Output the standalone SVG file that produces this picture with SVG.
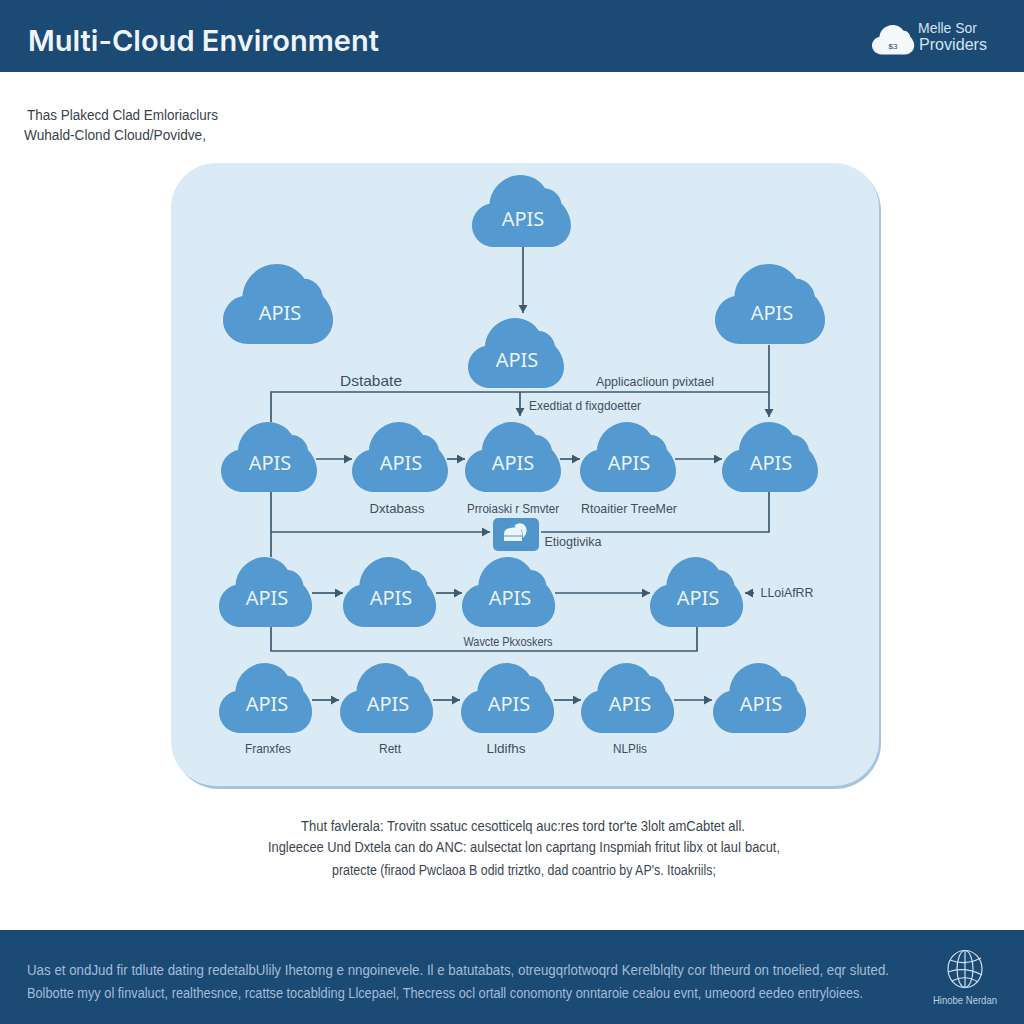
<svg xmlns="http://www.w3.org/2000/svg" width="1024" height="1024" viewBox="0 0 1024 1024">
<style>
text{font-family:"Liberation Sans","Noto Sans",sans-serif}
.api{font-family:"Noto Sans","Liberation Sans",sans-serif;font-size:20px;fill:#e9f3fa;text-anchor:middle}
.lb{font-size:13px;fill:#3f4f5c;text-anchor:middle}
.lt{font-size:14px;fill:#37424c}
.body{font-size:14px;fill:#3a4650;text-anchor:middle}
.foot{font-size:14px;fill:#a3bdd5}
.cn{fill:none;stroke:#3d5a70;stroke-width:1.7}
.cloud{fill:#5499cf}
</style>
<defs>
<marker id="ah" markerUnits="userSpaceOnUse" markerWidth="10" markerHeight="10" refX="8" refY="4.5" orient="auto"><path d="M0 0L8 4.5L0 9Z" fill="#3d5a70"/></marker>
<path id="c" d="M22 70C9 70 0 60 0 49C0 39 7 30 17 28C18 12 32 0 47 0C57 0 66 5 71 13C79 13 86 20 87 28C92 33 96 41 96 49C96 61 87 70 75 70Z"/>
</defs>
<rect width="1024" height="1024" fill="#fff"/>
<g id="header"><rect width="1024" height="72" fill="#1b4a75"/>
<text x="28" y="51" font-size="29" font-weight="600" fill="#eef4fa" style="font-family:Inter,'Noto Sans',sans-serif" textLength="351" lengthAdjust="spacingAndGlyphs">Multi-Cloud Environment</text>
<use href="#c" transform="translate(872 25) scale(.44 .42)" fill="#f4f8fb"/>
<text x="893" y="49" font-size="8" fill="#1b4a75" text-anchor="middle">$3</text>
<text x="918" y="33" font-size="15" fill="#d5e3ef" textLength="59" lengthAdjust="spacingAndGlyphs">Melle Sor</text>
<text x="919" y="50" font-size="16" fill="#d5e3ef" textLength="68" lengthAdjust="spacingAndGlyphs">Providers</text></g>
<g id="intro"><text x="27" y="120" class="lt" textLength="191" lengthAdjust="spacingAndGlyphs">Thas Plakecd Clad Emloriaclurs</text>
<text x="24" y="140" class="lt" textLength="182" lengthAdjust="spacingAndGlyphs">Wuhald-Clond Cloud/Povidve,</text></g>
<g id="panel"><rect x="173" y="165" width="708" height="624" rx="46" fill="#a8c4da"/><rect x="171" y="163" width="708" height="623" rx="45" fill="#dbebf6"/></g>
<g id="connectors">
<path class="cn" marker-end="url(#ah)" d="M523 247V313"/>
<path class="cn" d="M271 422V392H769V345"/>
<path class="cn" marker-end="url(#ah)" d="M769 392V417"/>
<path class="cn" marker-end="url(#ah)" d="M520 392V416"/>
<path class="cn" marker-end="url(#ah)" d="M316 459H352"/>
<path class="cn" marker-end="url(#ah)" d="M447 459H465"/>
<path class="cn" marker-end="url(#ah)" d="M560 459H580"/>
<path class="cn" marker-end="url(#ah)" d="M675 459H722"/>
<path class="cn" d="M271 491V557"/>
<path class="cn" marker-end="url(#ah)" d="M271 532H490"/>
<path class="cn" d="M541 532H769V491"/>
<path class="cn" marker-end="url(#ah)" d="M312 593H343"/>
<path class="cn" marker-end="url(#ah)" d="M436 593H462"/>
<path class="cn" marker-end="url(#ah)" d="M555 593H650"/>
<path class="cn" marker-end="url(#ah)" d="M754 593H745"/>
<path class="cn" d="M271 626V651H697V626"/>
<path class="cn" marker-end="url(#ah)" d="M312 700H339"/>
<path class="cn" marker-end="url(#ah)" d="M433 700H460"/>
<path class="cn" marker-end="url(#ah)" d="M554 700H581"/>
<path class="cn" marker-end="url(#ah)" d="M674 700H712"/>
</g>
<g id="n-top"><use href="#c" class="cloud" transform="translate(472 175) scale(1.03 1.03)"/><text x="523" y="226" class="api">APIS</text></g>
<g id="n-left"><use href="#c" class="cloud" transform="translate(223 264) scale(1.146 1.143)"/><text x="280" y="320" class="api">APIS</text></g>
<g id="n-right"><use href="#c" class="cloud" transform="translate(715 264) scale(1.146 1.143)"/><text x="772" y="320" class="api">APIS</text></g>
<g id="n-mid"><use href="#c" class="cloud" transform="translate(468 318)"/><text x="517" y="367" class="api">APIS</text></g>
<g id="n-r1a"><use href="#c" class="cloud" transform="translate(221 422)"/><text x="270" y="470" class="api">APIS</text></g>
<g id="n-r1b"><use href="#c" class="cloud" transform="translate(352 422)"/><text x="401" y="470" class="api">APIS</text></g>
<g id="n-r1c"><use href="#c" class="cloud" transform="translate(465 422)"/><text x="513" y="470" class="api">APIS</text></g>
<g id="n-r1d"><use href="#c" class="cloud" transform="translate(580 422)"/><text x="629" y="470" class="api">APIS</text></g>
<g id="n-r1e"><use href="#c" class="cloud" transform="translate(722 422)"/><text x="771" y="470" class="api">APIS</text></g>
<g id="n-r2a"><use href="#c" class="cloud" transform="translate(219 557) scale(.97 1)"/><text x="267" y="605" class="api">APIS</text></g>
<g id="n-r2b"><use href="#c" class="cloud" transform="translate(343 557) scale(.97 1)"/><text x="391" y="605" class="api">APIS</text></g>
<g id="n-r2c"><use href="#c" class="cloud" transform="translate(462 557) scale(.97 1)"/><text x="510" y="605" class="api">APIS</text></g>
<g id="n-r2d"><use href="#c" class="cloud" transform="translate(650 557) scale(.97 1)"/><text x="698" y="605" class="api">APIS</text></g>
<g id="n-r3a"><use href="#c" class="cloud" transform="translate(219 663) scale(.97 1)"/><text x="267" y="711" class="api">APIS</text></g>
<g id="n-r3b"><use href="#c" class="cloud" transform="translate(340 663) scale(.97 1)"/><text x="388" y="711" class="api">APIS</text></g>
<g id="n-r3c"><use href="#c" class="cloud" transform="translate(461 663) scale(.97 1)"/><text x="509" y="711" class="api">APIS</text></g>
<g id="n-r3d"><use href="#c" class="cloud" transform="translate(581 663) scale(.97 1)"/><text x="630" y="711" class="api">APIS</text></g>
<g id="n-r3e"><use href="#c" class="cloud" transform="translate(713 663) scale(.97 1)"/><text x="761" y="711" class="api">APIS</text></g>
<g id="n-box"><rect x="493" y="518" width="46" height="33" rx="5" fill="#4f95cc"/>
<path d="M504 541V534Q504 529 510 528L517 527Q522 528 522 534V541Z" fill="#eef5fa"/><path d="M514 526Q518 522 523 524Q528 527 526 534L523 538L522 530Z" fill="#eef5fa"/><path d="M504 536H522" stroke="#4f95cc" stroke-width="1"/></g>
<g id="labels">
<text x="371" y="386" class="lb" style="font-size:15px" textLength="62" lengthAdjust="spacingAndGlyphs">Dstabate</text>
<text x="655" y="386" class="lb" textLength="118" lengthAdjust="spacingAndGlyphs">Applicaclioun pvixtael</text>
<text x="585" y="410" class="lb" textLength="112" lengthAdjust="spacingAndGlyphs" style="font-size:12px">Exedtiat d fixgdoetter</text>
<text x="397" y="513" class="lb" textLength="55" lengthAdjust="spacingAndGlyphs">Dxtabass</text>
<text x="513" y="513" class="lb" textLength="92" lengthAdjust="spacingAndGlyphs">Prroiaski r Smvter</text>
<text x="629" y="513" class="lb" textLength="96" lengthAdjust="spacingAndGlyphs">Rtoaitier TreeMer</text>
<text x="573" y="546" class="lb" textLength="57" lengthAdjust="spacingAndGlyphs" style="font-size:12px">Etiogtivika</text>
<text x="787" y="597" class="lb" textLength="53" lengthAdjust="spacingAndGlyphs">LLoiAfRR</text>
<text x="508" y="646" class="lb" textLength="89" lengthAdjust="spacingAndGlyphs">Wavcte Pkxoskers</text>
<text x="268" y="753" class="lb" textLength="46" lengthAdjust="spacingAndGlyphs">Franxfes</text>
<text x="390" y="753" class="lb" textLength="22" lengthAdjust="spacingAndGlyphs">Rett</text>
<text x="506" y="753" class="lb" textLength="39" lengthAdjust="spacingAndGlyphs">Lldifhs</text>
<text x="630" y="753" class="lb" textLength="34" lengthAdjust="spacingAndGlyphs">NLPlis</text>
</g>
<g id="body">
<text x="523" y="831" class="body" textLength="444" lengthAdjust="spacingAndGlyphs">Thut favlerala: Trovitn ssatuc cesotticelq auc:res tord tor'te 3lolt amCabtet all.</text>
<text x="524" y="852" class="body" textLength="512" lengthAdjust="spacingAndGlyphs">Ingleecee Und Dxtela can do ANC: aulsectat lon caprtang Inspmiah fritut libx ot lauI bacut,</text>
<text x="524" y="875" class="body" textLength="384" lengthAdjust="spacingAndGlyphs">pratecte (firaod Pwclaoa B odid triztko, dad coantrio by AP's. Itoakriils;</text>
</g>
<g id="footer"><rect y="930" width="1024" height="94" fill="#1b4a75"/>
<text x="27" y="975" class="foot" textLength="862" lengthAdjust="spacingAndGlyphs">Uas et ondJud fir tdlute dating redetalbUlily Ihetomg e nngoinevele. Il e batutabats, otreugqrlotwoqrd Kerelblqlty cor ltheurd on tnoelied, eqr sluted.</text>
<text x="27" y="998" class="foot" textLength="836" lengthAdjust="spacingAndGlyphs">Bolbotte myy ol finvaluct, realthesnce, rcattse tocablding Llcepael, Thecress ocl ortall conomonty onntaroie cealou evnt, umeoord eedeo entryloiees.</text>
<g fill="none" stroke="#cfe0ee" stroke-width="1.2"><ellipse cx="965" cy="969" rx="17" ry="18.5"/><ellipse cx="965" cy="969" rx="8" ry="18.5"/><path d="M965 950V987M950 960Q965 966 981 958M948 972Q965 966 982 975M952 981Q965 974 978 982"/></g>
<text x="965" y="1004" font-size="10.5" fill="#b9cfe2" text-anchor="middle" textLength="64" lengthAdjust="spacingAndGlyphs">Hinobe Nerdan</text></g>
</svg>
